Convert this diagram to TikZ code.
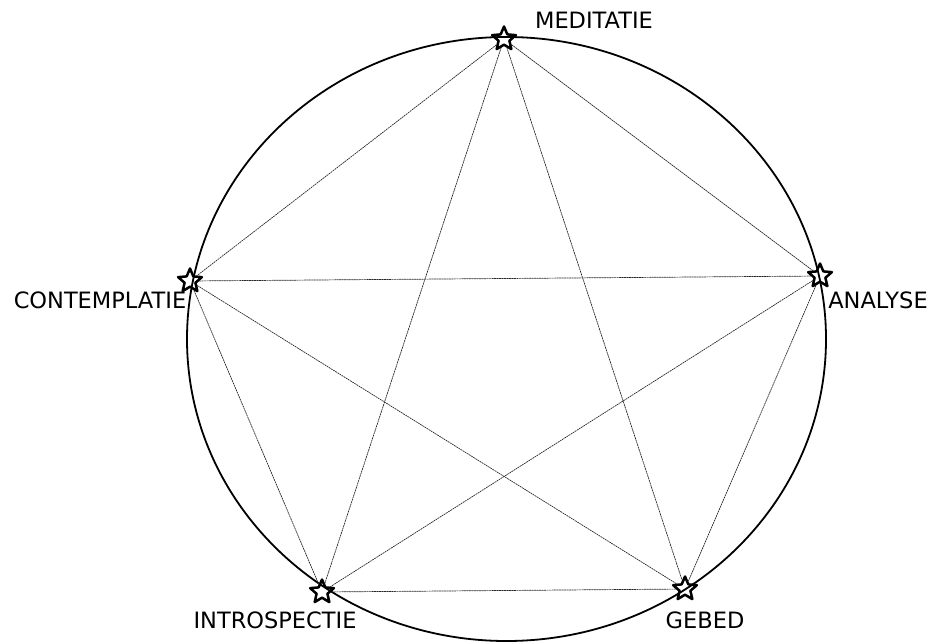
\documentclass[tikz,border=0pt]{standalone}
\usepackage{fontspec}
\setmainfont{DejaVu Sans}
\usetikzlibrary{shapes.geometric}
\begin{document}
\begin{tikzpicture}[x=1pt,y=-1pt, line join=round, line cap=round, font=\fontsize{22.5}{26}\selectfont,
	punt/.style={star, star points=5, star point ratio=2.2, draw, line width=2.5pt, minimum size=25pt, inner sep=0pt},
	lijn/.style={dash pattern=on 1.5pt off 1pt, line width=0.7pt, black!85}]
	\useasboundingbox (0,0) rectangle (936,644);
	\def\cx{506.5} \def\cy{339} \def\rx{319.5} \def\ry{302} % cirkel
	\draw[line width=1.8pt] (\cx,\cy) ellipse [x radius=\rx, y radius=\ry];
	% punten
	\node[punt] (med) at (504,39) {};
	\node[punt] (ana) at (820,276) {};
	\node[punt] (geb) at (685,589) {};
	\node[punt] (intro) at (322,592) {};
	\node[punt] (cont) at (190,281) {};
	% teksten
	\node (medt) at (594,20) {MEDITATIE};
	\node (anat) at (878,300) {ANALYSE};
	\node (gebt) at (705,620) {GEBED};
	\node (introt) at (275,620) {INTROSPECTIE};
	\node (contt) at (100,300) {CONTEMPLATIE};
	% verbindingen
	\foreach \a/\b in {med/ana,med/geb,med/intro,med/cont,ana/geb,ana/intro,ana/cont,geb/intro,geb/cont,intro/cont}
		\draw[lijn] (\a) -- (\b);
\end{tikzpicture}
\end{document}
